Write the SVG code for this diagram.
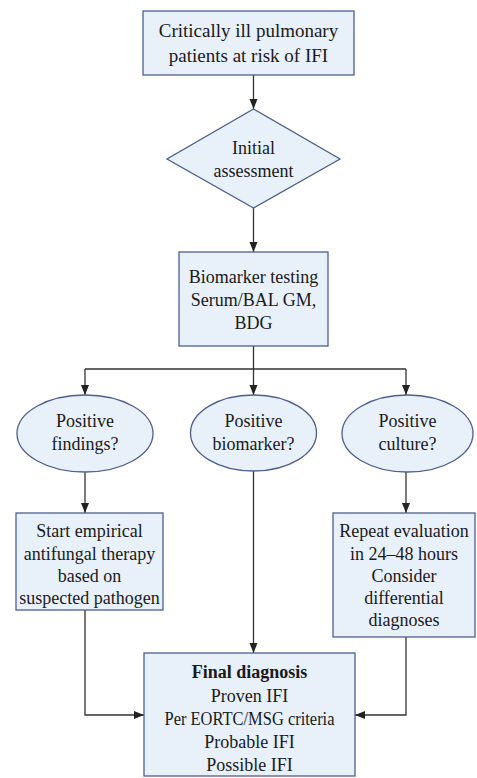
<svg xmlns="http://www.w3.org/2000/svg" width="477" height="778" viewBox="0 0 477 778">
<defs>
<marker id="ah" markerUnits="userSpaceOnUse" markerWidth="10" markerHeight="10" viewBox="0 0 10 10" refX="10" refY="5" orient="auto">
<path d="M0,1 L10,5 L0,9 Z" fill="#222"/>
</marker>
<style>
.n{fill:#e8f0fa;stroke:#4d5f8f;stroke-width:1.3}
.t{font-family:"Liberation Serif","Times New Roman",serif;font-size:18px;fill:#1a1a1a;text-anchor:middle}
.b{font-weight:bold}
.c{fill:none;stroke:#333;stroke-width:1.3}
.a{marker-end:url(#ah)}
</style>
</defs>
<rect width="477" height="778" fill="#ffffff"/>
<g id="connectors">
<path class="c a" d="M253.5,75 V109"/>
<path class="c a" d="M253.5,208 V252"/>
<path class="c a" d="M253.5,346 V395"/>
<path class="c" d="M85,369 H406"/>
<path class="c a" d="M85,369 V395"/>
<path class="c a" d="M406,369 V395"/>
<path class="c a" d="M85,472 V513"/>
<path class="c a" d="M406,472 V513"/>
<path class="c a" d="M253.5,471 V653"/>
<path class="c a" d="M85,610 V715 H144"/>
<path class="c a" d="M406,637 V715 H355"/>
</g>
<g id="start">
<rect class="n" x="143" y="11" width="211" height="64"/>
<text class="t" x="248.5" y="37" style="font-size:19px">Critically ill pulmonary</text>
<text class="t" x="248.5" y="62" style="font-size:19px">patients at risk of IFI</text>
</g>
<g id="assessment">
<polygon class="n" points="253.5,109 340,159 253.5,208 167,159"/>
<text class="t" x="253.5" y="154">Initial</text>
<text class="t" x="253.5" y="177">assessment</text>
</g>
<g id="biomarker">
<rect class="n" x="179" y="252" width="149" height="94"/>
<text class="t" x="253.5" y="283">Biomarker testing</text>
<text class="t" x="253.5" y="306">Serum/BAL GM,</text>
<text class="t" x="253.5" y="329">BDG</text>
</g>
<g id="findings">
<ellipse class="n" cx="85" cy="433.5" rx="68" ry="38.5"/>
<text class="t" x="85" y="427">Positive</text>
<text class="t" x="85" y="449.5">findings?</text>
</g>
<g id="pos-biomarker">
<ellipse class="n" cx="253.5" cy="433" rx="63" ry="38"/>
<text class="t" x="253.5" y="427">Positive</text>
<text class="t" x="253.5" y="449.5">biomarker?</text>
</g>
<g id="culture">
<ellipse class="n" cx="407.5" cy="433.5" rx="65.5" ry="38.5"/>
<text class="t" x="407.5" y="427">Positive</text>
<text class="t" x="407.5" y="449.5">culture?</text>
</g>
<g id="empirical">
<rect class="n" x="16" y="513" width="147" height="97"/>
<text class="t" x="89.5" y="537">Start empirical</text>
<text class="t" x="89.5" y="559.5">antifungal therapy</text>
<text class="t" x="89.5" y="582">based on</text>
<text class="t" x="89.5" y="604">suspected pathogen</text>
</g>
<g id="repeat">
<rect class="n" x="333" y="513" width="142" height="124"/>
<text class="t" x="404" y="537">Repeat evaluation</text>
<text class="t" x="404" y="559.5">in 24–48 hours</text>
<text class="t" x="404" y="582">Consider</text>
<text class="t" x="404" y="604">differential</text>
<text class="t" x="404" y="626">diagnoses</text>
</g>
<g id="final">
<rect class="n" x="144" y="653" width="211" height="123"/>
<text class="t b" x="249.5" y="678">Final diagnosis</text>
<text class="t" x="249.5" y="701.5">Proven IFI</text>
<text class="t" x="249.5" y="725" textLength="170" lengthAdjust="spacingAndGlyphs">Per EORTC/MSG criteria</text>
<text class="t" x="249.5" y="748">Probable IFI</text>
<text class="t" x="249.5" y="771">Possible IFI</text>
</g>
</svg>
